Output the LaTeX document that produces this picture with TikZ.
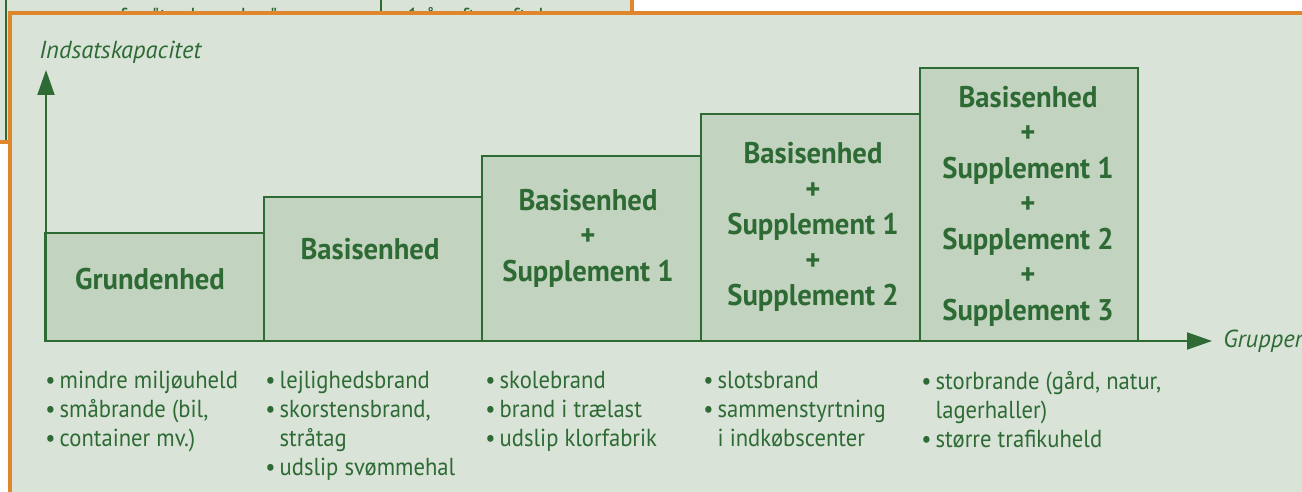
\documentclass[tikz,border=0pt]{standalone}
\usepackage{fontspec}
\setmainfont{PT Sans}
\newfontfamily\narrowfont{PT Sans}[FakeStretch=0.92]
\newfontfamily\labelfont{PT Sans}[FakeStretch=0.96]
\usetikzlibrary{arrows.meta, positioning}

\definecolor{panel}{HTML}{D9E3D8}
\definecolor{boxfill}{HTML}{C2D3C0}
\definecolor{dkgreen}{HTML}{2E6A34}
\definecolor{frame}{HTML}{E0872E}

\newcommand\blt{\textbullet\,}
\newcommand\cont{\phantom{\textbullet\,}}

\tikzset{
  unit/.style={draw=dkgreen, line width=1.1pt, fill=boxfill},
  unitlabel/.style={text=dkgreen, align=center, inner sep=0pt,
    font=\labelfont\bfseries\fontsize{17}{20.2}\selectfont},
  item/.style={text=dkgreen, align=left, inner sep=0pt, anchor=north west,
    font=\narrowfont\fontsize{14}{16.5}\selectfont},
  axislabel/.style={text=dkgreen, inner sep=0pt, anchor=west,
    font=\itshape\fontsize{14}{16}\selectfont},
  axis/.style={dkgreen, line width=1.1pt, -{Triangle[length=0.5cm, width=0.34cm]}}
}

\begin{document}
\begin{tikzpicture}[x=0.02cm, y=-0.02cm]
\clip (0,0) rectangle (1302,492);

% panel behind
\fill[panel] (0,0) rectangle (632,142);
\draw[dkgreen, line width=1.1pt] (6,0) -- (6,142) (381,0) -- (381,30);
\draw[frame, line width=2pt] (632,0) -- (632,142) -- (0,142);
\node[item, anchor=base west] (old1) at (24,26) {\blt rammer fra "tagbranden"};
\node[item, anchor=base west] (old2) at (392,26) {\blt 1 år efter aftalen};

% main panel
\fill[panel] (10,13) rectangle (1310,500);
\draw[frame, line width=2pt] (10,500) -- (10,13) -- (1310,13);

% units
\foreach \l/\r/\t in {45/264/233, 264/482/197, 482/701/156, 701/920/114, 920/1138/68}
  \draw[unit] (\l,341) rectangle (\r,\t);

\node[unitlabel] (grund) at (150,279) {Grundenhed};
\node[unitlabel] (basis) at (370,249) {Basisenhed};
\node[unitlabel] (sup1) at (588,238) {Basisenhed\\+\\Supplement 1};
\node[unitlabel] (sup2) at (813,227) {Basisenhed\\+\\Supplement 1\\+\\Supplement 2};
\node[unitlabel] (sup3) at (1028,206) {Basisenhed\\+\\Supplement 1\\+\\Supplement 2\\+\\Supplement 3};

% axes
\coordinate (origin) at (46,341);
\coordinate (ytip) at (46,70);
\coordinate (xtip) at (1212,341);
\draw[axis] (origin) -- (ytip);
\draw[axis] (origin) -- (xtip);
\node[axislabel] (ylab) at (39,52) {Indsatskapacitet};
\node[axislabel] (xlab) at (1223,341) {Grupper};

% examples
\node[item] (ex1) at (45,371) {\blt mindre miljøuheld\\\blt småbrande (bil,\\\blt container mv.)};
\node[item] (ex2) at (265,371) {\blt lejlighedsbrand\\\blt skorstensbrand,\\\cont stråtag\\\blt udslip svømmehal};
\node[item] (ex3) at (485,371) {\blt skolebrand\\\blt brand i trælast\\\blt udslip klorfabrik};
\node[item] (ex4) at (703,371) {\blt slotsbrand\\\blt sammenstyrtning\\\cont i indkøbscenter};
\node[item] (ex5) at (921,371) {\blt storbrande (gård, natur,\\\cont lagerhaller)\\\blt større trafikuheld};
\end{tikzpicture}
\end{document}
